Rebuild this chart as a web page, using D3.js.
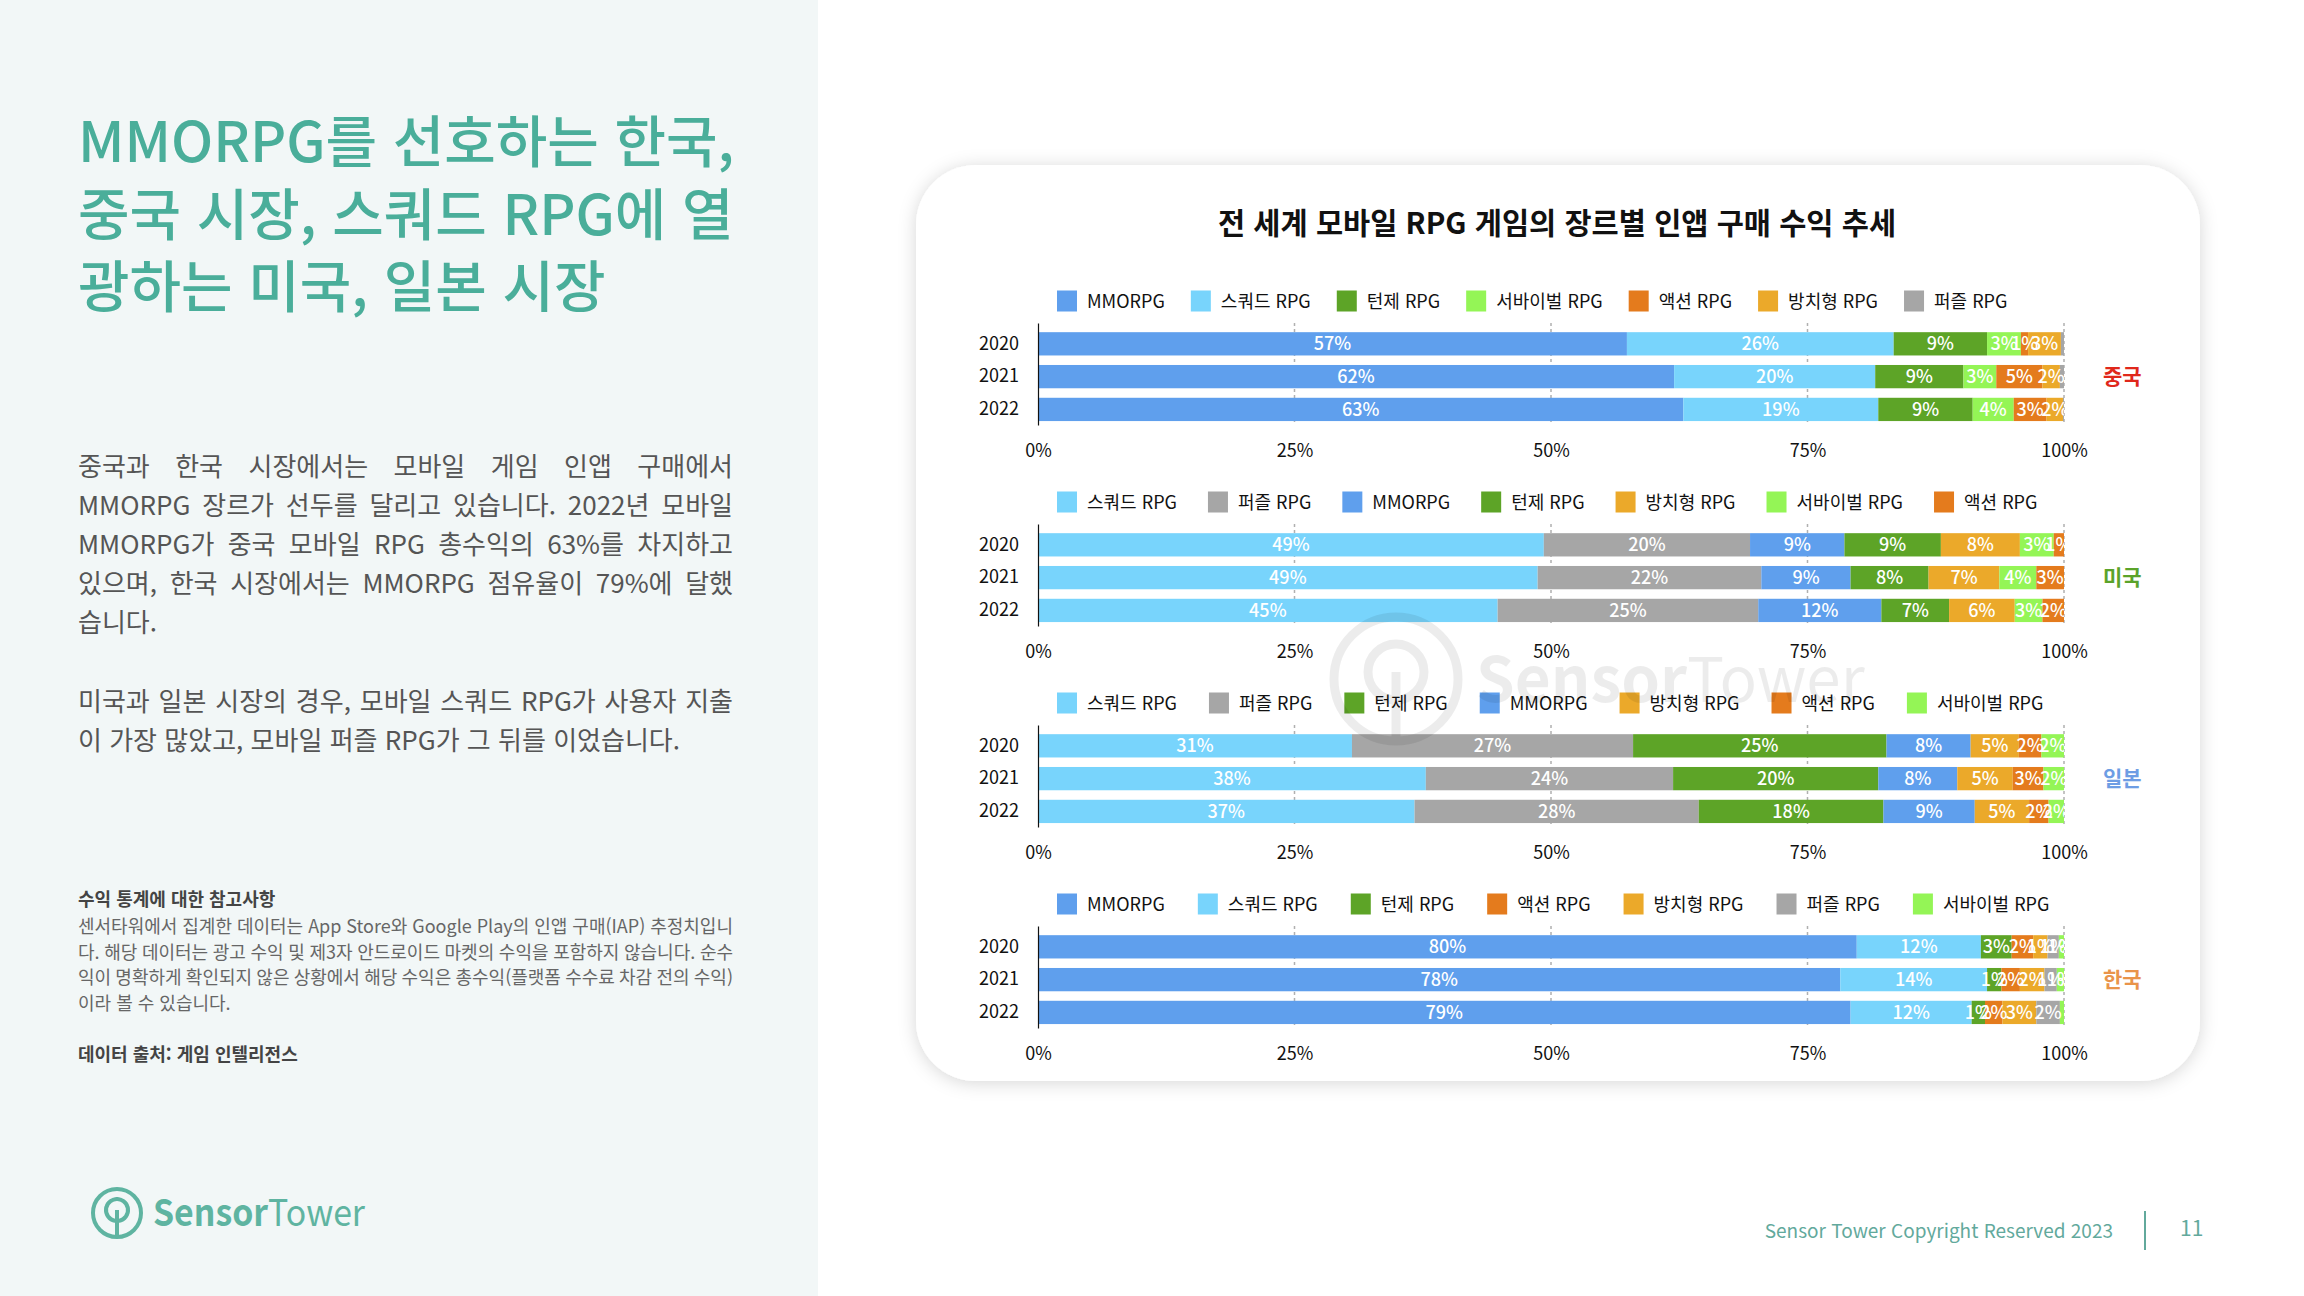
<!DOCTYPE html>
<html lang="ko">
<head>
<meta charset="utf-8">
<script src="https://cdn.jsdelivr.net/npm/d3@7"></script>
<style>
  html, body { margin: 0; padding: 0; background: #ffffff; }
  svg { display: block; }
  text { font-family: "Noto Sans CJK KR", "Noto Sans", sans-serif; }
</style>
</head>
<body>
<svg id="page" width="2304" height="1296"></svg>
<script>
// ---------------- DATA ----------------
const years = ["2020", "2021", "2022"];
const xTickValues = [0, 25, 50, 75, 100];

const chartTitle = "전 세계 모바일 RPG 게임의 장르별 인앱 구매 수익 추세";

// China
const chinaGenres = ["MMORPG", "스쿼드 RPG", "턴제 RPG", "서바이벌 RPG", "액션 RPG", "방치형 RPG", "퍼즐 RPG"];
const chinaValues = [
  [57.4, 26.0, 9.1, 3.3, 0.7, 3.2, 0.3],
  [62.0, 19.6, 8.6, 3.2, 4.5, 1.7, 0.4],
  [62.9, 19.0, 9.2, 4.0, 3.2, 1.6, 0.1]
];
// USA
const usGenres = ["스쿼드 RPG", "퍼즐 RPG", "MMORPG", "턴제 RPG", "방치형 RPG", "서바이벌 RPG", "액션 RPG"];
const usValues = [
  [49.3, 20.1, 9.2, 9.4, 7.7, 3.3, 1.0],
  [48.7, 21.8, 8.7, 7.6, 6.9, 3.6, 2.7],
  [44.8, 25.4, 12.0, 6.6, 6.4, 2.7, 2.1]
];
// Japan
const japanGenres = ["스쿼드 RPG", "퍼즐 RPG", "턴제 RPG", "MMORPG", "방치형 RPG", "액션 RPG", "서바이벌 RPG"];
const japanValues = [
  [30.6, 27.4, 24.7, 8.2, 4.7, 2.2, 2.2],
  [37.8, 24.1, 20.0, 7.7, 5.4, 3.0, 2.0],
  [36.7, 27.7, 18.0, 8.9, 5.3, 1.9, 1.5]
];
// Korea
const koreaGenres = ["MMORPG", "스쿼드 RPG", "턴제 RPG", "액션 RPG", "방치형 RPG", "퍼즐 RPG", "서바이벌 RPG"];
const koreaValues = [
  [79.8, 12.1, 3.0, 2.1, 1.4, 1.1, 0.5],
  [78.2, 14.3, 1.4, 1.8, 2.4, 1.2, 0.7],
  [79.2, 11.8, 1.3, 1.7, 3.3, 2.3, 0.4]
];
const countryNames = ["중국", "미국", "일본", "한국"];

// Left-panel texts
const headlineLines = ["MMORPG를 선호하는 한국,", "중국 시장, 스쿼드 RPG에 열", "광하는 미국, 일본 시장"];
const para1Lines = [
  "중국과 한국 시장에서는 모바일 게임 인앱 구매에서",
  "MMORPG 장르가 선두를 달리고 있습니다. 2022년 모바일",
  "MMORPG가 중국 모바일 RPG 총수익의 63%를 차지하고",
  "있으며, 한국 시장에서는 MMORPG 점유율이 79%에 달했",
  "습니다."
];
const para2Lines = [
  "미국과 일본 시장의 경우, 모바일 스쿼드 RPG가 사용자 지출",
  "이 가장 많았고, 모바일 퍼즐 RPG가 그 뒤를 이었습니다."
];
const noteTitle = "수익 통계에 대한 참고사항";
const noteLines = [
  "센서타워에서 집계한 데이터는 App Store와 Google Play의 인앱 구매(IAP) 추정치입니",
  "다. 해당 데이터는 광고 수익 및 제3자 안드로이드 마켓의 수익을 포함하지 않습니다. 순수",
  "익이 명확하게 확인되지 않은 상황에서 해당 수익은 총수익(플랫폼 수수료 차감 전의 수익)",
  "이라 볼 수 있습니다."
];
const sourceText = "데이터 출처: 게임 인텔리전스";
const footerText = "Sensor Tower Copyright Reserved 2023";
const pageNumber = "11";

// ---------------- STYLE ----------------
const genreColors = {
  "MMORPG": "#5f9fed",
  "스쿼드 RPG": "#78d4fc",
  "턴제 RPG": "#5da427",
  "서바이벌 RPG": "#94f556",
  "액션 RPG": "#e47b1d",
  "방치형 RPG": "#eba92a",
  "퍼즐 RPG": "#a6a6a6"
};
const countryColors = ["#e0281b", "#5ba32a", "#6d9de4", "#e9944a"];
const legendGaps = [26, 31, 32, 33];
const FONT = '"Noto Sans CJK KR", "Noto Sans", sans-serif';

const panels = [
  { genres: chinaGenres, values: chinaValues },
  { genres: usGenres, values: usValues },
  { genres: japanGenres, values: japanValues },
  { genres: koreaGenres, values: koreaValues }
];

// ---------------- DRAW ----------------
const svg = d3.select("#page");
const defs = svg.append("defs");

// Left panel background
svg.append("rect").attr("x", 0).attr("y", 0).attr("width", 818).attr("height", 1296).attr("fill", "#f2f7f7");

// Justify helper
function justifyLine(g, str, x, y, width, size, fill, weight) {
  const words = str.split(" ");
  const nodes = words.map(w => g.append("text").text(w)
    .attr("font-size", size).attr("fill", fill).attr("font-weight", weight || 400).attr("y", y));
  const widths = nodes.map(n => n.node().getComputedTextLength());
  const gap = words.length > 1 ? (width - d3.sum(widths)) / (words.length - 1) : 0;
  let cx = x;
  nodes.forEach((n, i) => { n.attr("x", cx); cx += widths[i] + gap; });
}

const left = svg.append("g");
headlineLines.forEach((t, i) => {
  left.append("text").attr("x", 78).attr("y", 162 + i * 72.5)
    .attr("font-size", 56).attr("font-weight", 500).attr("fill", "#4aae9a").text(t);
});
para1Lines.forEach((t, i) => {
  const y = 476 + i * 39;
  if (i < para1Lines.length - 1) justifyLine(left, t, 78, y, 655, 26, "#555555");
  else left.append("text").attr("x", 78).attr("y", y).attr("font-size", 26).attr("fill", "#555555").text(t);
});
para2Lines.forEach((t, i) => {
  const y = 711 + i * 39;
  if (i === 0) justifyLine(left, t, 78, y, 655, 26, "#555555");
  else left.append("text").attr("x", 78).attr("y", y).attr("font-size", 26).attr("fill", "#555555").text(t);
});
left.append("text").attr("x", 78).attr("y", 906).attr("font-size", 18).attr("font-weight", 700)
  .attr("fill", "#444444").text(noteTitle);
noteLines.forEach((t, i) => {
  const y = 933 + i * 25.7;
  if (i < noteLines.length - 1) justifyLine(left, t, 78, y, 655, 18, "#666666");
  else left.append("text").attr("x", 78).attr("y", y).attr("font-size", 18).attr("fill", "#666666").text(t);
});
left.append("text").attr("x", 78).attr("y", 1061).attr("font-size", 18).attr("font-weight", 700)
  .attr("fill", "#444444").text(sourceText);

// Logo
const logo = svg.append("g").attr("fill", "none").attr("stroke", "#5fb4a1").attr("stroke-width", 4);
logo.append("circle").attr("cx", 117).attr("cy", 1213).attr("r", 24);
logo.append("path").attr("d", d3.arc()({ innerRadius: 11, outerRadius: 11, startAngle: Math.PI * 0.8, endAngle: Math.PI * 3.2 }))
  .attr("transform", "translate(117,1210)");
logo.append("line").attr("x1", 117).attr("x2", 117).attr("y1", 1210).attr("y2", 1238);
const logoText = svg.append("text").attr("x", 153).attr("y", 1226).attr("font-size", 37).attr("fill", "#5fb4a1")
  .attr("font-family", '"Open Sans", "Noto Sans", sans-serif')
  .attr("textLength", 212).attr("lengthAdjust", "spacingAndGlyphs");
logoText.append("tspan").attr("font-weight", 700).text("Sensor");
logoText.append("tspan").attr("font-weight", 400).text("Tower");

// Footer
svg.append("text").attr("x", 2113).attr("y", 1238).attr("text-anchor", "end").attr("font-size", 19)
  .attr("fill", "#62a99c").text(footerText);
svg.append("line").attr("x1", 2145).attr("x2", 2145).attr("y1", 1211).attr("y2", 1250)
  .attr("stroke", "#62a99c").attr("stroke-width", 2);
svg.append("text").attr("x", 2180).attr("y", 1236).attr("font-size", 21).attr("fill", "#62a99c").text(pageNumber);

// Card
const shadow = defs.append("filter").attr("id", "shadow").attr("x", "-10%").attr("y", "-10%").attr("width", "120%").attr("height", "120%");
shadow.append("feDropShadow").attr("dx", 0).attr("dy", 2).attr("stdDeviation", 9)
  .attr("flood-color", "#000").attr("flood-opacity", 0.16);
svg.append("rect").attr("x", 916).attr("y", 165).attr("width", 1284).attr("height", 916)
  .attr("rx", 60).attr("ry", 60).attr("fill", "#ffffff").attr("filter", "url(#shadow)");

// Title
svg.append("text").attr("x", 1557).attr("y", 234).attr("text-anchor", "middle")
  .attr("font-size", 29.5).attr("font-weight", 700).attr("fill", "#111111").text(chartTitle);

// Scales
const x = d3.scaleLinear().domain([0, 100]).range([1038, 2064]);
const PANEL_STEP = 201;

defs.append("clipPath").attr("id", "plotClip").append("rect")
  .attr("x", x(0)).attr("y", 0).attr("width", x(100) - x(0)).attr("height", 1296);

panels.forEach((p, pi) => {
  const dy = pi * PANEL_STEP;
  const g = svg.append("g");
  const y = d3.scaleBand().domain(years).range([323 + dy, 425 + dy]).paddingInner(0.29).paddingOuter(0.2).align(0.7);

  // Legend
  const lg = g.append("g");
  let lx = 1057;
  const ly = 301 + dy;
  p.genres.forEach(gen => {
    lg.append("rect").attr("x", lx).attr("y", ly - 10.5).attr("width", 20).attr("height", 21).attr("fill", genreColors[gen]);
    const t = lg.append("text").attr("x", lx + 30).attr("y", ly + 6.5).attr("font-size", 18).attr("fill", "#111111").text(gen);
    lx += 30 + t.node().getComputedTextLength() + legendGaps[pi];
  });

  // Gridlines
  g.append("g").selectAll("line").data(xTickValues.filter(v => v > 0)).join("line")
    .attr("x1", d => x(d)).attr("x2", d => x(d)).attr("y1", 323 + dy).attr("y2", 425 + dy)
    .attr("stroke", "#b0b0b0").attr("stroke-width", 1.5).attr("stroke-dasharray", "3,3");

  // Data rows
  const rows = years.map((yr, i) => {
    const r = { year: yr };
    p.genres.forEach((gen, j) => { r[gen] = p.values[i][j]; });
    return r;
  });
  const stack = d3.stack().keys(p.genres)(rows);

  const segs = [];
  stack.forEach(layer => layer.forEach(d => segs.push({ key: layer.key, x0: d[0], x1: d[1], year: d.data.year })));

  g.append("g").selectAll("rect").data(segs).join("rect")
    .attr("x", d => x(d.x0)).attr("width", d => x(d.x1) - x(d.x0))
    .attr("y", d => y(d.year)).attr("height", y.bandwidth())
    .attr("fill", d => genreColors[d.key]);

  g.append("g").attr("clip-path", "url(#plotClip)").selectAll("text")
    .data(segs.filter(d => Math.round(d.x1 - d.x0) >= 1)).join("text")
    .attr("x", d => x((d.x0 + d.x1) / 2)).attr("y", d => y(d.year) + y.bandwidth() / 2 + 6.5)
    .attr("text-anchor", "middle").attr("font-size", 18).attr("font-weight", 500).attr("fill", "#ffffff")
    .text(d => Math.round(d.x1 - d.x0) + "%");

  // Y axis
  const ya = g.append("g").attr("transform", `translate(${x(0)},0)`)
    .call(d3.axisLeft(y).tickSize(0).tickSizeOuter(0).tickPadding(19));
  ya.select(".domain").attr("stroke", "#111111").attr("stroke-width", 1.2);
  ya.selectAll("text").attr("font-family", FONT).attr("font-size", 18).attr("fill", "#111111");

  // X axis (labels only)
  const xa = g.append("g").attr("transform", `translate(0,${444 + dy})`)
    .call(d3.axisBottom(x).tickValues(xTickValues).tickFormat(d => d + "%").tickSize(0).tickPadding(0));
  xa.select(".domain").remove();
  xa.selectAll("text").attr("font-family", FONT).attr("font-size", 18).attr("fill", "#111111").attr("dy", "0.71em");

  // Country label
  g.append("text").attr("x", 2103).attr("y", y("2021") + y.bandwidth() / 2 + 7.5)
    .attr("font-size", 21).attr("font-weight", 700).attr("fill", countryColors[pi]).text(countryNames[pi]);
});

// Watermark
const wm = svg.append("g").attr("opacity", 0.07);
wm.append("circle").attr("cx", 1396).attr("cy", 679).attr("r", 62).attr("fill", "none").attr("stroke", "#000").attr("stroke-width", 9);
wm.append("circle").attr("cx", 1396).attr("cy", 672).attr("r", 28).attr("fill", "none").attr("stroke", "#000").attr("stroke-width", 9);
wm.append("line").attr("x1", 1396).attr("x2", 1396).attr("y1", 672).attr("y2", 741).attr("stroke", "#000").attr("stroke-width", 9);
const wmt = wm.append("text").attr("x", 1476).attr("y", 702).attr("font-size", 62).attr("fill", "#000")
  .attr("font-family", '"Open Sans", "Noto Sans", sans-serif');
wmt.append("tspan").attr("font-weight", 700).text("Sensor");
wmt.append("tspan").attr("font-weight", 400).text("Tower");
</script>
</body>
</html>
